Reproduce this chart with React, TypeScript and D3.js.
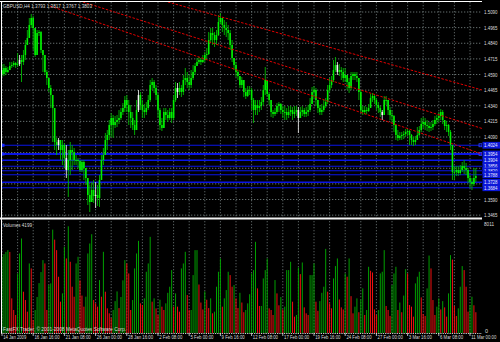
import React from 'react';
import * as d3 from 'd3';

// ---------- data (prices stored as price x 10000) ----------
const HEADER = 'GBPUSD,H4 1.3793 1.3817 1.3767 1.3803';
const FIRST_OPEN = 14626;
const CLOSES = [
  14594,14642,14610,14626,14658,14666,14682,14666,14674,14706,
  14690,14746,14826,14882,14986,15042,14962,14746,14922,14930,
  14786,14746,14610,14562,14482,14426,14322,14050,14026,14066,
  13986,14026,13922,13826,13906,13986,13970,13906,13906,13898,
  13826,13890,13842,13762,13626,13570,13666,13618,13626,13602,
  13746,13906,13946,14066,14106,14186,14242,14186,14210,14226,
  14242,14290,14322,14386,14346,14290,14242,14186,14146,14306,
  14426,14346,14306,14290,14322,14386,14506,14530,14482,14426,
  14306,14186,14162,14290,14266,14242,14290,14242,14386,14482,
  14450,14482,14450,14546,14562,14530,14506,14562,14610,14658,
  14690,14706,14690,14706,14746,14754,14866,14922,14906,14866,
  14906,15010,15042,14986,14962,14946,14922,14826,14722,14666,
  14610,14578,14506,14546,14450,14418,14466,14466,14386,14306,
  14346,14322,14338,14370,14466,14546,14434,14386,14290,14274,
  14290,14338,14354,14306,14290,14290,14266,14290,14306,14274,
  14290,14306,14242,14290,14306,14274,14290,14306,14354,14450,
  14466,14386,14322,14290,14306,14338,14370,14466,14506,14546,
  14626,14666,14610,14626,14610,14562,14586,14530,14482,14578,
  14594,14578,14562,14450,14306,14290,14306,14298,14322,14402,
  14418,14386,14346,14322,14290,14266,14386,14386,14306,14266,
  14258,14186,14106,14082,14098,14106,14114,14130,14138,14106,
  14066,14050,14066,14106,14146,14194,14210,14186,14178,14162,
  14170,14194,14226,14242,14258,14290,14226,14178,14186,14130,
  14026,13810,13810,13826,13802,13826,13858,13842,13826,13762,
  13730,13714,13762,13778,
];
const HIGHS = [
  14674,14674,14658,14650,14690,14690,14698,14690,14762,14746,
  14746,14786,14866,14946,15042,15074,15058,14906,14946,14946,
  14938,14786,14746,14626,14562,14506,14426,14322,14082,14082,
  14066,14066,14042,14026,13986,14050,14026,14002,13946,13922,
  13906,13906,13906,13842,13762,13706,13730,13746,13730,13706,
  13786,13946,14002,14122,14146,14226,14282,14266,14258,14266,
  14306,14322,14362,14418,14426,14386,14346,14290,14226,14386,
  14466,14450,14386,14354,14370,14426,14546,14562,14546,14506,
  14442,14322,14242,14322,14322,14306,14322,14322,14426,14530,
  14522,14530,14506,14586,14642,14610,14586,14626,14666,14682,
  14722,14730,14722,14746,14770,14802,14930,14962,14962,14930,
  14946,15066,15082,15042,15026,15010,14986,14946,14866,14722,
  14690,14626,14578,14570,14506,14482,14498,14498,14482,14402,
  14386,14386,14386,14410,14506,14650,14546,14450,14386,14306,
  14322,14362,14370,14362,14338,14338,14322,14338,14338,14330,
  14338,14338,14330,14330,14338,14322,14330,14346,14402,14490,
  14498,14482,14386,14346,14354,14386,14402,14506,14562,14578,
  14706,14730,14690,14674,14650,14642,14642,14578,14562,14610,
  14610,14610,14610,14562,14466,14338,14338,14330,14354,14434,
  14442,14434,14402,14370,14338,14306,14418,14418,14386,14330,
  14306,14266,14186,14146,14130,14130,14138,14154,14154,14146,
  14114,14090,14098,14170,14178,14242,14250,14242,14226,14210,
  14210,14226,14258,14266,14290,14314,14306,14226,14218,14194,
  14146,14026,13858,13858,13858,13866,13890,13906,13882,13842,
  13786,13762,13842,13842,
];
const LOWS = [
  14570,14578,14586,14602,14626,14642,14650,14642,14650,14658,
  14530,14666,14706,14826,14906,14962,14786,14730,14746,14898,
  14762,14610,14586,14506,14450,14322,14050,13986,13946,13986,
  13906,13866,13842,13762,13610,13786,13826,13866,13866,13842,
  13810,13810,13746,13706,13546,13490,13586,13562,13522,13538,
  13530,13842,13866,13946,13986,14066,14090,14082,14162,14170,
  14194,14226,14266,14290,14290,14186,14162,14146,14106,14146,
  14290,14306,14242,14242,14266,14306,14370,14466,14442,14386,
  14242,14146,14138,14162,14226,14210,14226,14202,14226,14370,
  14402,14426,14410,14426,14506,14482,14466,14482,14546,14586,
  14658,14674,14666,14682,14690,14706,14746,14850,14826,14810,
  14826,14898,14994,14930,14906,14890,14866,14786,14690,14626,
  14570,14546,14482,14482,14410,14394,14410,14426,14306,14202,
  14266,14266,14290,14306,14346,14426,14410,14346,14250,14242,
  14258,14274,14290,14274,14242,14226,14226,14242,14258,14226,
  14242,14258,14122,14242,14258,14250,14250,14258,14290,14354,
  14402,14338,14282,14266,14266,14290,14322,14354,14450,14482,
  14530,14610,14586,14578,14546,14530,14530,14466,14442,14466,
  14546,14546,14530,14386,14282,14266,14274,14274,14290,14322,
  14370,14354,14306,14282,14250,14226,14266,14346,14266,14226,
  14210,14130,14066,14058,14066,14066,14074,14090,14098,14026,
  14026,14018,14026,14066,14098,14130,14162,14146,14138,14130,
  14138,14146,14178,14194,14210,14226,14194,14146,14130,14098,
  13986,13746,13746,13778,13778,13786,13810,13794,13786,13722,
  13682,13666,13698,13730,
];
const VOLUMES = [
  5500,5700,5850,5980,5850,2500,1660,1300,4300,5740,
  6820,2980,2380,1540,5020,4660,940,1660,2600,3600,
  4400,5260,5020,1660,3460,3580,7460,6740,5980,4060,
  2260,2860,6220,5380,7700,5140,3340,2620,5020,5500,
  3800,2700,1900,2620,5740,6460,7130,2380,2140,1900,
  3820,2620,5860,2980,1780,1420,1100,1660,2300,3000,
  1800,2600,3800,5260,5020,4300,1660,2380,4660,5740,
  6650,2140,2020,2500,4420,5020,6940,2260,2500,1780,
  1300,2400,1900,1660,2140,2900,3340,4540,1900,2860,
  1900,1540,4660,5020,5860,2740,1660,1660,4180,5980,
  5980,3500,2200,1700,3000,2400,1800,2500,1420,1540,
  3340,4420,5380,1900,2500,3100,4420,4180,3340,3460,
  2500,1800,2900,2200,1500,1660,2140,2800,4300,4540,
  6580,3220,1950,1950,3940,4540,5380,1780,1660,1300,
  3820,2860,2000,2600,1700,1900,4540,4540,5140,2260,
  1180,1300,4730,4250,5090,1850,1420,1300,4180,4180,
  5020,2260,1600,2300,2900,3340,6070,2980,2140,1780,
  3940,4830,5380,2420,1850,1700,4300,4060,5380,2660,
  1420,1900,2500,1500,2400,3220,1300,1660,4780,4490,
  4370,1700,1300,1660,4300,4420,5980,1950,1660,1230,
  3460,4300,4780,1660,2200,1500,2700,4610,4300,2020,
  1900,1180,3580,4060,4420,2570,1370,1230,3220,5590,
  4660,2380,1300,1900,2500,1700,2300,1850,1180,2860,
  5620,5300,1950,1230,1780,3340,4830,4540,3340,1540,
  2020,2620,2000,1500,
];
const WHITE_BARS = [9, 29, 33, 48, 70, 90, 152, 172, 195];
const TIME_LABELS = [
  '14 Jan 2009', '16 Jan 16:00', '21 Jan 08:00', '26 Jan 00:00',
  '28 Jan 16:00', '2 Feb 08:00', '5 Feb 00:00', '9 Feb 16:00',
  '12 Feb 08:00', '17 Feb 00:00', '19 Feb 16:00', '24 Feb 08:00',
  '27 Feb 00:00', '3 Mar 16:00', '6 Mar 08:00', '11 Mar 00:00',
];
const BARS_PER_LABEL = 16;
const PRICE_TICKS = [1.509, 1.4965, 1.484, 1.4715, 1.459, 1.4465, 1.434, 1.4215, 1.409, 1.3965, 1.384, 1.3715, 1.359, 1.3465];
const LEVELS = [1.4024, 1.3954, 1.3904, 1.3856, 1.382, 1.3788, 1.3728, 1.3684];
const LEVEL_WIDTHS = [1.2, 1.8, 1.5, 1.2, 1.0, 1.2, 1.5, 1.2];
const TRENDLINES = [
  { b0: 85.1, p0: 1.517, b1: 246.2, p1: 1.4466 },
  { b0: 41.5, p0: 1.517, b1: 246.2, p1: 1.4158 },
  { b0: 24.6, p0: 1.5138, b1: 246.2, p1: 1.3954 },
];
const VOL_MAX = 8011;
const VOL_LABEL = 'Volumes 4199';
const COPYRIGHT = 'FastFX Trader, \u00a9 2001-2008 MetaQuotes Software Corp.';

const FONT = 'Liberation Sans, Arial, sans-serif';
const TXT = '#dcdcdc';
const GRID = '#7e8a8a';

export default function App() {
  React.useEffect(() => {
    document.body.style.margin = '0';
    document.body.style.background = '#000';
  }, []);

  const x = d3.scaleLinear().domain([0, 240]).range([2, 470]);
  const y = d3.scaleLinear().domain([1.3458, 1.509]).range([216, 12]);
  const yv = d3.scaleLinear().domain([0, VOL_MAX]).range([333, 222]);

  const bars = CLOSES.map((c, i) => {
    const o = i === 0 ? FIRST_OPEN : CLOSES[i - 1];
    const h = Math.max(HIGHS[i], o, c);
    const l = Math.min(LOWS[i], o, c);
    return { i, o: o / 1e4, c: c / 1e4, h: h / 1e4, l: l / 1e4 };
  });

  const vGrid = d3.range(0, 247, 8);
  const line = d3.line<[number, number]>().x(d => x(d[0])).y(d => y(d[1]));

  return (
    <svg width={500} height={342} style={{ position: 'fixed', left: 0, top: 0, background: '#000', display: 'block' }}>
      <defs>
        <clipPath id="mainClip"><rect x={1} y={1.5} width={481} height={216} /></clipPath>
        <clipPath id="volClip"><rect x={1} y={220} width={481} height={113.5} /></clipPath>
      </defs>
      <rect x={0} y={0} width={500} height={342} fill="#000" />

      {/* horizontal grid (main) */}
      {PRICE_TICKS.map((p, k) => (
        <line key={'hg' + k} x1={2} x2={482} y1={y(p)} y2={y(p)} stroke={GRID} strokeWidth={0.8} strokeDasharray="1.3 1.7" />
      ))}
      {/* vertical grid */}
      {vGrid.map(b => (
        <g key={'vg' + b}>
          <line x1={x(b)} x2={x(b)} y1={2} y2={217} stroke={GRID} strokeWidth={0.7} strokeDasharray="1.3 1.7" />
          <line x1={x(b)} x2={x(b)} y1={221} y2={333} stroke={GRID} strokeWidth={0.7} strokeDasharray="1.3 1.7" />
        </g>
      ))}

      {/* blue levels */}
      <g clipPath="url(#mainClip)">
        {LEVELS.map((p, k) => (
          <line key={'lv' + k} x1={1} x2={482} y1={y(p)} y2={y(p)} stroke="#0a14e6" strokeWidth={LEVEL_WIDTHS[k]} />
        ))}
        {LEVELS.slice(0, 2).map((p, k) => (
          <g key={'lvs' + k}>
            <rect x={1.5} y={y(p) - 1.5} width={3} height={3} fill="#1a28ff" />
            <rect x={479} y={y(p) - 1.5} width={3} height={3} fill="none" stroke="#3040ff" strokeWidth={0.8} />
          </g>
        ))}
      </g>

      {/* candles */}
      <g clipPath="url(#mainClip)">
        {bars.map(b => {
          const white = WHITE_BARS.includes(b.i);
          const col = white ? '#f4f4f4' : '#00f000';
          const wick = white ? '#e0e0e0' : '#00b800';
          const cx = x(b.i);
          const top = y(Math.max(b.o, b.c));
          const hgt = Math.max(0.9, Math.abs(y(b.o) - y(b.c)));
          return (
            <g key={'c' + b.i}>
              <line x1={cx} x2={cx} y1={y(b.h)} y2={y(b.l)} stroke={wick} strokeWidth={0.9} />
              <rect x={cx - 0.8} y={top} width={1.6} height={hgt} fill={col} />
            </g>
          );
        })}
      </g>

      {/* trend lines */}
      <g clipPath="url(#mainClip)">
        {TRENDLINES.map((t, k) => (
          <path key={'tl' + k} d={line([[t.b0, t.p0], [t.b1, t.p1]]) || ''} stroke="#e00000" strokeWidth={1} strokeDasharray="2.5 1.5" fill="none" />
        ))}
      </g>

      {/* volumes */}
      <g clipPath="url(#volClip)">
        {VOLUMES.map((v, i) => {
          const up = i === 0 || v >= VOLUMES[i - 1];
          return (
            <rect key={'v' + i} x={x(i) - 0.5} y={yv(v)} width={1} height={yv(0) - yv(v)} fill={up ? '#00a000' : '#f01010'} />
          );
        })}
      </g>

      {/* frame */}
      <line x1={0} x2={482} y1={1.5} y2={1.5} stroke="#ffffff" strokeWidth={1} />
      <line x1={1.5} x2={1.5} y1={1} y2={334} stroke="#ffffff" strokeWidth={1} />
      <line x1={0} x2={482} y1={218.5} y2={218.5} stroke="#f0f0f0" strokeWidth={2} />
      <line x1={1} x2={482} y1={333.5} y2={333.5} stroke="#c8c8c8" strokeWidth={1} strokeDasharray="1.3 1" />

      {/* price axis labels */}
      {PRICE_TICKS.map((p, k) => (
        <text key={'pl' + k} x={484} y={y(p) + 2} fontFamily={FONT} fontSize={5.5} fill={TXT} textLength={13.5} lengthAdjust="spacingAndGlyphs">{p.toFixed(4)}</text>
      ))}

      {/* level label boxes */}
      {LEVELS.map((p, k) => (
        <g key={'lb' + k}>
          <rect x={482.5} y={y(p) - 3.4} width={17.5} height={6.8} fill="#0c18d8" />
          <text x={484} y={y(p) + 1.8} fontFamily={FONT} fontSize={5} fill="#e8e8ff" textLength={13.5} lengthAdjust="spacingAndGlyphs">{p.toFixed(4)}</text>
        </g>
      ))}

      {/* volume axis */}
      <text x={484} y={225.5} fontFamily={FONT} fontSize={5.5} fill={TXT} textLength={10} lengthAdjust="spacingAndGlyphs">{String(VOL_MAX)}</text>
      <text x={485} y={333} fontFamily={FONT} fontSize={5.5} fill={TXT}>0</text>

      {/* time axis */}
      {TIME_LABELS.map((t, k) => {
        const xx = x(k * BARS_PER_LABEL);
        const last = k === TIME_LABELS.length - 1;
        const len = t.length * 2.1;
        return (
          <g key={'tx' + k}>
            <line x1={xx} x2={xx} y1={333} y2={336} stroke="#e0e0e0" strokeWidth={0.8} />
            <text x={last ? xx + 1.2 + len : xx + 1.2} y={339} textAnchor={last ? 'end' : 'start'} fontFamily={FONT} fontSize={5.5} fill={TXT} textLength={len} lengthAdjust="spacingAndGlyphs">{t}</text>
          </g>
        );
      })}

      {/* texts */}
      <text x={3} y={7.5} fontFamily={FONT} fontSize={6} fill={TXT} textLength={89} lengthAdjust="spacingAndGlyphs">{HEADER}</text>
      <text x={3} y={226.5} fontFamily={FONT} fontSize={6} fill={TXT} textLength={29} lengthAdjust="spacingAndGlyphs">{VOL_LABEL}</text>
      <text x={3} y={331} fontFamily={FONT} fontSize={6} fill={TXT} textLength={123} lengthAdjust="spacingAndGlyphs">{COPYRIGHT}</text>
    </svg>
  );
}
